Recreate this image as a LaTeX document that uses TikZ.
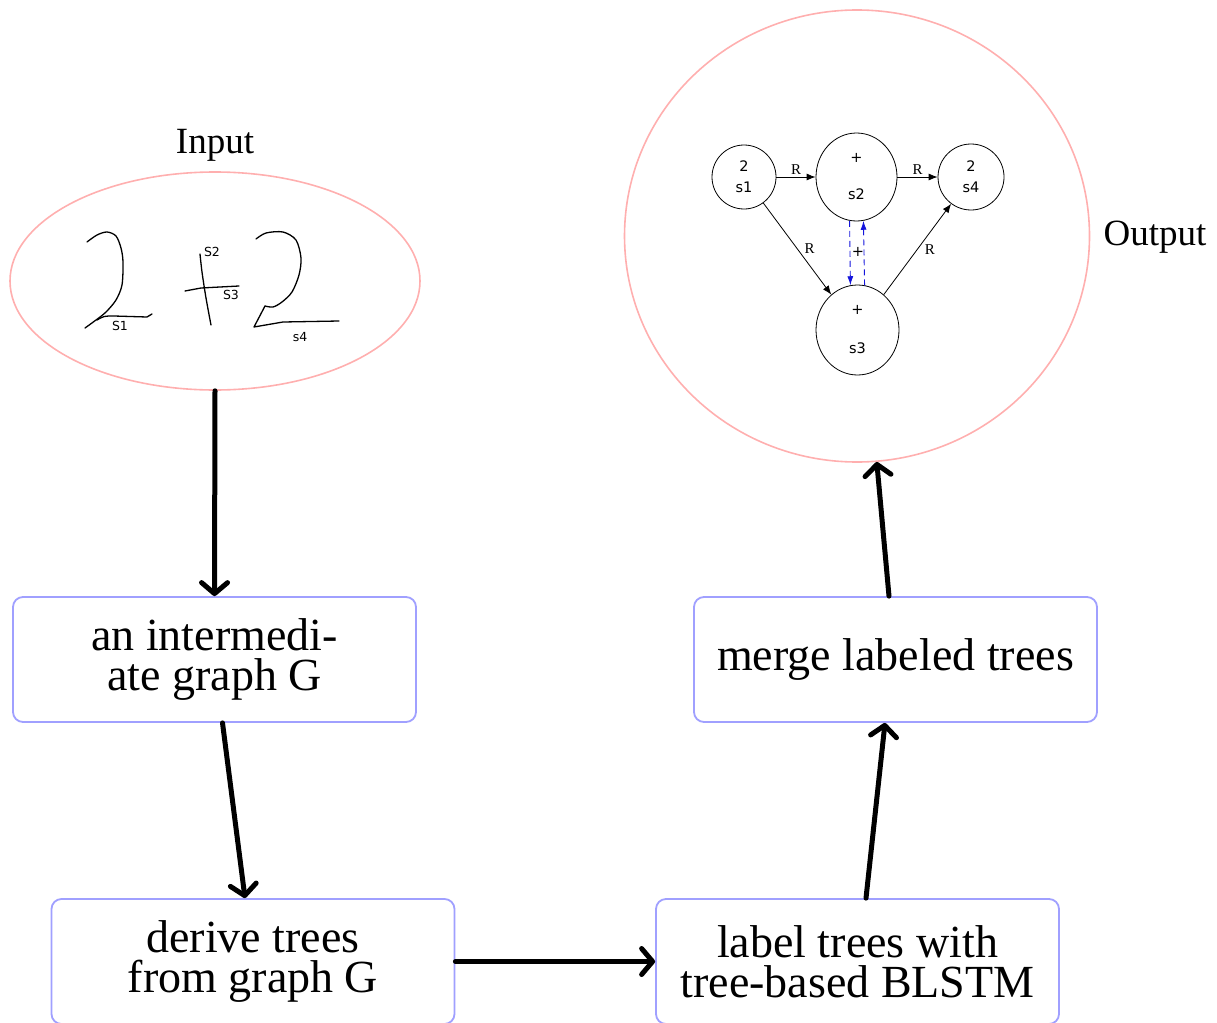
\documentclass[tikz,border=0pt]{standalone}
\usepackage{fontspec}
\setmainfont{Liberation Serif}
\newfontfamily\gsans{DejaVu Sans}
\usetikzlibrary{arrows.meta,shapes.geometric}
\definecolor{boxblue}{RGB}{160,160,255}
\definecolor{ringpink}{RGB}{255,175,175}
\definecolor{dashblue}{RGB}{20,20,220}
\begin{document}
\begin{tikzpicture}[x=1pt,y=-1pt,
  stepbox/.style={draw=boxblue, line width=1.8pt, rounded corners=10pt, minimum width=403pt, minimum height=125pt, align=center, font=\fontsize{46}{40}\selectfont, inner sep=0pt},
  flow/.style={line width=5pt, line cap=round, -{Straight Barb[length=11pt,width=26pt,line cap=round,line join=round]}},
  ring/.style={draw=ringpink, line width=1.6pt, ellipse, inner sep=0pt},
  gnode/.style={draw, line width=0.8pt, inner sep=0pt, align=center, font=\gsans\fontsize{14.5}{21}\selectfont},
  gedge/.style={line width=0.8pt, -{Latex[length=9pt,width=7pt]}},
  dedge/.style={line width=0.9pt, draw=dashblue, dash pattern=on 6pt off 4pt, -{Latex[length=9pt,width=6pt]}, color=dashblue},
  elabel/.style={font=\fontsize{15}{15}\selectfont, inner sep=2pt},
  stroke/.style={line width=1.3pt, line cap=round, line join=round},
  slabel/.style={font=\gsans\fontsize{12.5}{13}\selectfont, inner sep=0pt},
  title/.style={font=\fontsize{37}{40}\selectfont, inner sep=0pt}
]
\useasboundingbox (0,0) rectangle (1217,1022);

% input
\node[ring, minimum width=410pt, minimum height=218pt] (inp) at (215,281) {};
\node[title] (inlabel) at (215,145) {Input};
\draw[stroke] plot[smooth] coordinates {(87,242) (97,235) (107,232) (116,236) (121,248) (123,262) (122,285) (116,300) (106,312) (96,320) (85,328)};
\draw[stroke] (97,320) .. controls (104,316) .. (114,316) -- (147,317) -- (152,314);
\draw[stroke] plot[smooth] coordinates {(200,254) (202,272) (206,298) (211,325)};
\draw[stroke] (185,291) -- (201,288) -- (239,286);
\draw[stroke] plot[smooth] coordinates {(256,239) (266,233) (283,232) (296,240) (301,258) (299,275) (292,292) (282,302) (273,307) (265,306)};
\draw[stroke] (265,306) -- (254,327) -- (283,322) -- (339,321);
\node[slabel] (ls1) at (120,326) {S1};
\node[slabel] (ls2) at (212,252) {S2};
\node[slabel] (ls3) at (231,295) {S3};
\node[slabel] (ls4) at (300,337) {s4};

% output
\node[ring, minimum width=465pt, minimum height=452pt] (outp) at (857,236) {};
\node[title] (outlabel) at (1155,237) {Output};
\node[gnode, circle, minimum size=64pt] (s1) at (744,177) {2\\s1};
\node[gnode, ellipse, minimum width=81pt, minimum height=88pt] (s2) at (856.5,177) {+\\[16pt]s2};
\node[gnode, circle, minimum size=66pt] (s4) at (971,177) {2\\s4};
\node[gnode, ellipse, minimum width=83pt, minimum height=90pt] (s3) at (857.5,330) {+\\[18pt]s3};
\draw[gedge] (s1) -- (s2) node[elabel, midway, above] {R};
\draw[gedge] (s2) -- (s4) node[elabel, midway, above] {R};
\draw[gedge] (s1) -- (s3) node[elabel, midway, right=5pt] {R};
\draw[gedge] (s3) -- (s4) node[elabel, midway, right=5pt] {R};
\draw[dedge] (s2.-99) -- (s3.99);
\draw[dedge] (s3.81) -- (s2.-81);
\node[font=\gsans\fontsize{14.5}{14}\selectfont, inner sep=0pt] (plus) at (858,252) {+};

% boxes
\node[stepbox] (b1) at (214.5,659.5) {an intermedi-\\ate graph G};
\node[stepbox] (b2) at (895.5,659.5) {merge labeled trees};
\node[stepbox] (b3) at (253,961.5) {derive trees\\from graph G};
\node[stepbox] (b4) at (857.5,961.5) {label trees with\\tree-based BLSTM};

% flow
\draw[flow] (inp.south) -- (b1.north);
\draw[flow] ([xshift=8pt]b1.south) -- ([xshift=-8pt]b3.north);
\draw[flow] (b3.east) -- (b4.west);
\draw[flow] ([xshift=8.5pt]b4.north) -- ([xshift=-10.5pt]b2.south);
\draw[flow] ([xshift=-6.5pt]b2.north) -- (outp.-85);
\end{tikzpicture}
\end{document}
